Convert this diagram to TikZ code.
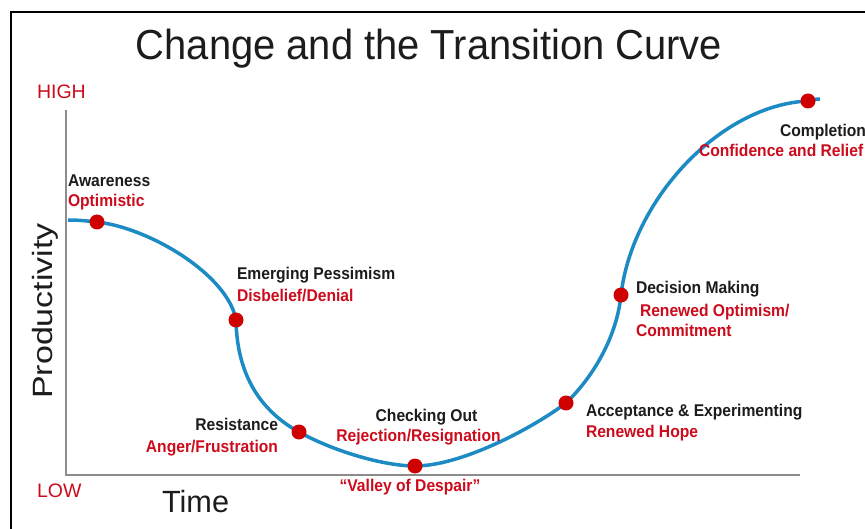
\documentclass[tikz,border=0pt]{standalone}
\usepackage{graphicx}
\usepackage{fontspec}
\setmainfont{Liberation Sans}
\newfontfamily\titlefont{Liberation Sans}[FakeStretch=0.95]
\newfontfamily\labelfont{Liberation Sans}[FakeStretch=0.92]

\definecolor{inkdark}{RGB}{28,28,28}
\definecolor{labelred}{RGB}{204,12,28}
\definecolor{dotred}{RGB}{206,0,0}
\definecolor{curveblue}{RGB}{28,139,196}
\definecolor{axisgray}{RGB}{140,140,140}

\begin{document}
\begin{tikzpicture}[x=1pt,y=-1pt,
  every node/.style={inner sep=0pt, outer sep=0pt},
  heading/.style={font=\titlefont\fontsize{42}{48}\selectfont, text=inkdark},
  levelmark/.style={font=\fontsize{19.5}{22}\selectfont, text=labelred},
  axisname/.style={font=\fontsize{30.7}{34}\selectfont, text=inkdark},
  stage/.style={font=\labelfont\bfseries\fontsize{17}{20}\selectfont, text=inkdark},
  feeling/.style={stage, text=labelred},
  dot/.style={circle, fill=dotred, minimum size=15pt},
  curveline/.style={draw=curveblue, line width=3.5pt},
  axisline/.style={draw=axisgray, line width=1.5pt},
  frameline/.style={draw=black, line width=2pt}]

\useasboundingbox (0,0) rectangle (865,529);
\clip (0,0) rectangle (865,529);
\fill[white] (0,0) rectangle (865,529);

% outer frame (top and left edges)
\coordinate (fbl) at (11,530);
\coordinate (ftl) at (11,12);
\coordinate (ftr) at (866,12);
\draw[frameline] (fbl) -- (ftl) -- (ftr);

% title
\node[heading, anchor=base] (title) at (429,60) {Change and the Transition Curve};

% axes
\coordinate (ytop) at (66,110);
\coordinate (origin) at (66,475);
\coordinate (xend) at (800,475);
\draw[axisline] (ytop) -- (origin) -- (xend);

\node[levelmark, anchor=base west] (high) at (37,99) {HIGH};
\node[levelmark, anchor=base west] (low) at (37,497) {LOW};
\node[axisname, anchor=base west] (time) at (162,512) {Time};
\node[font=\fontsize{34}{38}\selectfont, text=inkdark, rotate=90] (prod) at (45,311)
  {\scalebox{1}[0.82]{Productivity}};

% stage points on the curve
\coordinate (cstart) at (68,220);
\coordinate (p1) at (97,222);
\coordinate (p2) at (236,320);
\coordinate (p3) at (299,432);
\coordinate (p4) at (415,466);
\coordinate (p5) at (566,403);
\coordinate (p6) at (621,295);
\coordinate (p7) at (808,101);
\coordinate (cend) at (820,99);

% transition curve
\draw[curveline] (cstart) .. controls (78,220) and (88,221) .. (p1)
  .. controls (150,228) and (228,275) .. (p2)
  .. controls (237,385) and (270,416) .. (p3)
  .. controls (335,452) and (385,466) .. (p4)
  .. controls (460,466) and (530,430) .. (p5)
  .. controls (595,375) and (617,335) .. (p6)
  .. controls (632,200) and (720,105) .. (p7)
  .. controls (812,100) and (816,99) .. (cend);

\foreach \p in {1,...,7} {
  \node[dot] (d\p) at (p\p) {};
}

% stage labels
\node[stage, anchor=base west] (aw1) at (68,187) {Awareness};
\node[feeling, anchor=base west] (aw2) at (68,207) {Optimistic};

\node[stage, anchor=base west] (ep1) at (237,280) {Emerging Pessimism};
\node[feeling, anchor=base west] (ep2) at (237,302) {Disbelief/Denial};

\node[stage, anchor=base east] (rs1) at (278,430) {Resistance};
\node[feeling, anchor=base east] (rs2) at (278,452) {Anger/Frustration};

\node[stage, anchor=base] (co1) at (426.5,421) {Checking Out};
\node[feeling, anchor=base] (co2) at (418.5,441) {Rejection/Resignation};
\node[feeling, anchor=base] (vd) at (410,491) {“Valley of Despair”};

\node[stage, anchor=base west] (ae1) at (586,416) {Acceptance \& Experimenting};
\node[feeling, anchor=base west] (ae2) at (586,437) {Renewed Hope};

\node[stage, anchor=base west] (dm1) at (636,294) {Decision Making};
\node[feeling, anchor=base west] (dm2) at (640,317) {Renewed Optimism/};
\node[feeling, anchor=base west] (dm3) at (636,337) {Commitment};

\node[stage, anchor=base west] (cp1) at (780,137) {Completion};
\node[feeling, anchor=base west] (cp2) at (699,157) {Confidence and Relief};

\end{tikzpicture}
\end{document}
